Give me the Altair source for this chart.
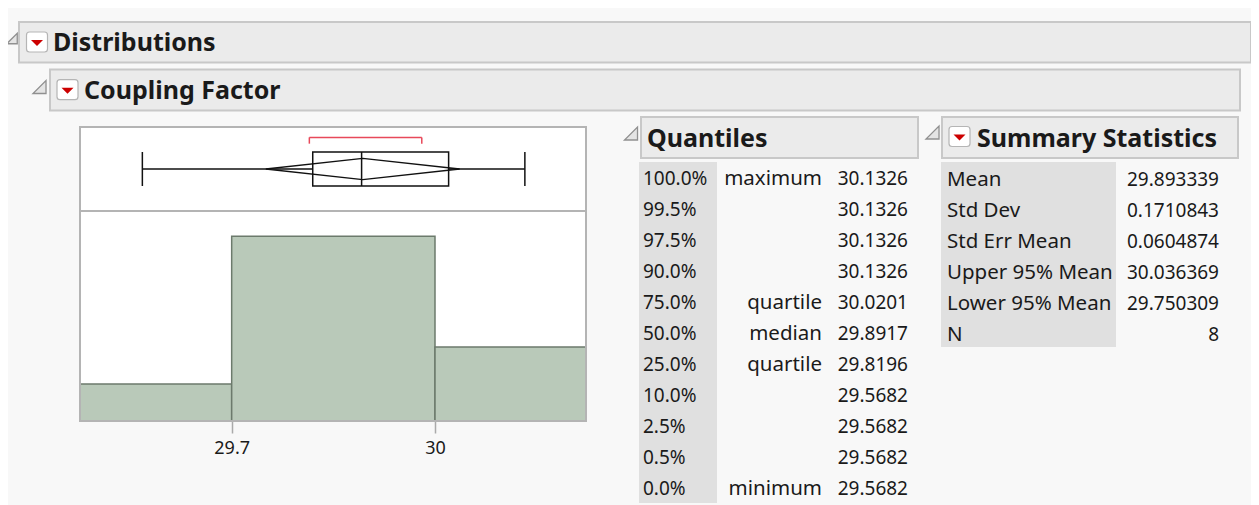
import altair as alt
import pandas as pd

FONT = "Noto Sans"
TXT = "#1a1a1a"
BG = "#f8f8f8"

# ---------------- data ----------------
hist_start = [29.4, 29.7, 30.0]
hist_end = [29.7, 30.0, 30.3]
hist_count = [1, 5, 2]
axis_ticks = [29.7, 30.0]
axis_domain = [29.4762, 30.2228]
count_domain = [0, 5.68]

quant_level = ["100.0%", "99.5%", "97.5%", "90.0%", "75.0%", "50.0%",
               "25.0%", "10.0%", "2.5%", "0.5%", "0.0%"]
quant_name = ["maximum", "", "", "", "quartile", "median", "quartile",
              "", "", "", "minimum"]
quant_value = ["30.1326", "30.1326", "30.1326", "30.1326", "30.0201", "29.8917",
               "29.8196", "29.5682", "29.5682", "29.5682", "29.5682"]

stat_name = ["Mean", "Std Dev", "Std Err Mean", "Upper 95% Mean", "Lower 95% Mean", "N"]
stat_value = ["29.893339", "0.1710843", "0.0604874", "30.036369", "29.750309", "8"]

shortest_half = [29.8146, 29.9805]

v_max = float(quant_value[0])
v_q3 = float(quant_value[4])
v_med = float(quant_value[5])
v_q1 = float(quant_value[6])
v_min = float(quant_value[10])
v_mean = float(stat_value[0])
v_upper = float(stat_value[3])
v_lower = float(stat_value[4])

# ---------------- layout helpers ----------------
one = pd.DataFrame({"k": [0]})

X_SCALE = alt.Scale(domain=axis_domain, range=[72, 578], clamp=True, nice=False, zero=False)
BOX_Y = alt.Scale(domain=[-1, 1], range=[178, 144], nice=False, zero=False)
DH = 0.62  # half-height of mean diamond (box units)


def rect(x1, x2, y1, y2, fill, stroke=None, sw=0.0, radius=0, fill_opacity=1):
    kw = dict(fill=fill, fillOpacity=fill_opacity)
    if stroke:
        kw.update(stroke=stroke, strokeWidth=sw)
    if radius:
        kw.update(cornerRadius=radius)
    return alt.Chart(one).mark_rect(**kw).encode(
        x=alt.value(x1), x2=alt.value(x2), y=alt.value(y1), y2=alt.value(y2))


def text(s, x, y, size, bold=False, align="left", color=TXT):
    return alt.Chart(one).mark_text(
        text=s, font=FONT, fontSize=size, fontWeight="bold" if bold else "normal",
        align=align, baseline="middle", color=color).encode(x=alt.value(x), y=alt.value(y))


def disclosure(x, y, size=150):
    return alt.Chart(one).mark_point(
        shape="M1,-1L1,1L-1,1Z", size=size, filled=True, fill="#e4e4e4",
        stroke="#909090", strokeWidth=1.3, opacity=1).encode(x=alt.value(x), y=alt.value(y))


def button(x, y):
    return [
        rect(x - 10.5, x + 10.5, y - 10, y + 10, "#ffffff", "#b5b5b5", 1.2, 3),
        alt.Chart(one).mark_point(
            shape="M-1,-0.5L1,-0.5L0,0.5Z", size=144, filled=True, fill="#cc0000",
            strokeWidth=0, opacity=1).encode(x=alt.value(x), y=alt.value(y + 1)),
    ]


HEAD_FILL = "#ebebeb"
HEAD_STROKE = "#c8c8c8"
TITLE_SIZE = 25
WORD_SIZE = 20.5
NUM_SIZE = 19

layers = []
# header bars
layers.append(rect(11, 1243, 14, 54.5, HEAD_FILL, HEAD_STROKE, 2))
layers.append(rect(42, 1232, 61.5, 102.5, HEAD_FILL, HEAD_STROKE, 2))
layers.append(rect(633, 910, 109, 150, HEAD_FILL, HEAD_STROKE, 2))
layers.append(rect(934, 1230, 109, 150, HEAD_FILL, HEAD_STROKE, 2))
# disclosure triangles and buttons
layers.append(disclosure(4, 30.5, 110))
layers.append(disclosure(31.5, 79, 170))
layers.append(disclosure(623, 125.5, 170))
layers.append(disclosure(924.5, 124.5, 170))
layers += button(29, 34)
layers += button(59.5, 81.7)
layers += button(951.5, 128.5)
# titles
layers.append(text("Distributions", 45, 35, TITLE_SIZE, True))
layers.append(text("Coupling Factor", 76, 82.5, TITLE_SIZE, True))
layers.append(text("Quantiles", 639, 130.5, TITLE_SIZE, True))
layers.append(text("Summary Statistics", 969, 130.5, TITLE_SIZE, True))

# gray label columns
layers.append(rect(631, 709, 154, 495, "#e0e0e0"))
layers.append(rect(933, 1108, 154, 339, "#e0e0e0"))

# plot frame background
layers.append(rect(72, 578, 119, 413, "#ffffff"))

# histogram
hist_df = pd.DataFrame({"start": hist_start, "end": hist_end, "count": hist_count})
layers.append(
    alt.Chart(hist_df).mark_rect(fill="#b9c9b9", stroke="#6c7a6c", strokeWidth=1.5).encode(
        x=alt.X("start:Q", scale=X_SCALE, title=None,
                axis=alt.Axis(values=axis_ticks, format=".3~g", orient="bottom", offset=-84,
                              tickSize=12, tickColor="#aaaaaa", tickWidth=1.5, domain=False,
                              grid=False, labelFont=FONT, labelFontSize=18, labelColor=TXT,
                              labelPadding=6)),
        x2="end:Q",
        y=alt.Y("count:Q", scale=alt.Scale(domain=count_domain, range=[413, 203], nice=False),
                axis=None),
        y2=alt.Y2Datum(0),
    )
)

# frame outline + separator
layers.append(rect(72, 578, 119, 413, "#ffffff", "#b4b4b4", 2, fill_opacity=0))
layers.append(alt.Chart(one).mark_rule(color="#b4b4b4", strokeWidth=2).encode(
    x=alt.value(72), x2=alt.value(578), y=alt.value(203)))

# ---- box plot ----
LINE = "#111111"
whisk_df = pd.DataFrame({"lo": [v_min], "hi": [v_max]})
layers.append(alt.Chart(whisk_df).mark_rule(color=LINE, strokeWidth=1.5).encode(
    x=alt.X("lo:Q", scale=X_SCALE, axis=None), x2="hi:Q",
    y=alt.YDatum(0, scale=BOX_Y, axis=None)))
caps_df = pd.DataFrame({"v": [v_min, v_max]})
layers.append(alt.Chart(caps_df).mark_rule(color=LINE, strokeWidth=1.5).encode(
    x=alt.X("v:Q", scale=X_SCALE, axis=None),
    y=alt.YDatum(-1, scale=BOX_Y, axis=None), y2=alt.Y2Datum(1)))
box_df = pd.DataFrame({"q1": [v_q1], "q3": [v_q3]})
layers.append(alt.Chart(box_df).mark_rect(fill="#ffffff", stroke=LINE, strokeWidth=1.5).encode(
    x=alt.X("q1:Q", scale=X_SCALE, axis=None), x2="q3:Q",
    y=alt.YDatum(-1, scale=BOX_Y, axis=None), y2=alt.Y2Datum(1)))
med_df = pd.DataFrame({"m": [v_med]})
layers.append(alt.Chart(med_df).mark_rule(color=LINE, strokeWidth=1.5).encode(
    x=alt.X("m:Q", scale=X_SCALE, axis=None),
    y=alt.YDatum(-1, scale=BOX_Y, axis=None), y2=alt.Y2Datum(1)))
dia_df = pd.DataFrame({
    "x": [v_lower, v_mean, v_upper, v_mean, v_lower],
    "y": [0, DH, 0, -DH, 0],
    "i": [0, 1, 2, 3, 4],
})
layers.append(alt.Chart(dia_df).mark_line(color=LINE, strokeWidth=1.3).encode(
    x=alt.X("x:Q", scale=X_SCALE, axis=None),
    y=alt.Y("y:Q", scale=BOX_Y, axis=None),
    order="i:Q"))
# shortest half bracket
RED = "#e8495a"
sh_df = pd.DataFrame({"lo": [shortest_half[0]], "hi": [shortest_half[1]]})
layers.append(alt.Chart(sh_df).mark_rule(color=RED, strokeWidth=1.5).encode(
    x=alt.X("lo:Q", scale=X_SCALE, axis=None), x2="hi:Q",
    y=alt.YDatum(1.86, scale=BOX_Y, axis=None)))
sh_ends = pd.DataFrame({"v": shortest_half})
layers.append(alt.Chart(sh_ends).mark_rule(color=RED, strokeWidth=1.5).encode(
    x=alt.X("v:Q", scale=X_SCALE, axis=None),
    y=alt.YDatum(1.49, scale=BOX_Y, axis=None), y2=alt.Y2Datum(1.86)))

# ---- quantiles table ----
q_df = pd.DataFrame({"row": list(range(len(quant_level))), "level": quant_level,
                     "name": quant_name, "value": quant_value})
QROW = alt.Scale(domain=[0, 10], range=[171, 481], nice=False, zero=False)
for field, xpos, align, size in [("level", 635, "left", NUM_SIZE), ("name", 814, "right", WORD_SIZE),
                                 ("value", 900, "right", NUM_SIZE)]:
    layers.append(alt.Chart(q_df).mark_text(font=FONT, fontSize=size, align=align, baseline="middle",
                                            color=TXT).encode(
        x=alt.value(xpos), y=alt.Y("row:Q", scale=QROW, axis=None), text=f"{field}:N"))

# ---- summary statistics table ----
s_df = pd.DataFrame({"row": list(range(len(stat_name))), "name": stat_name, "value": stat_value})
SROW = alt.Scale(domain=[0, 5], range=[172, 327], nice=False, zero=False)
for field, xpos, align, size in [("name", 939, "left", WORD_SIZE), ("value", 1211, "right", NUM_SIZE)]:
    layers.append(alt.Chart(s_df).mark_text(font=FONT, fontSize=size, align=align, baseline="middle",
                                            color=TXT).encode(
        x=alt.value(xpos), y=alt.Y("row:Q", scale=SROW, axis=None), text=f"{field}:N"))

chart = (
    alt.layer(*layers)
    .resolve_scale(x="independent", y="independent")
    .properties(width=1243, height=497, padding=0,
                autosize=alt.AutoSizeParams(type="none"), background=BG)
    .configure_view(strokeWidth=0)
)

chart.save("out.html", embed_options={"renderer": "svg", "actions": False})
